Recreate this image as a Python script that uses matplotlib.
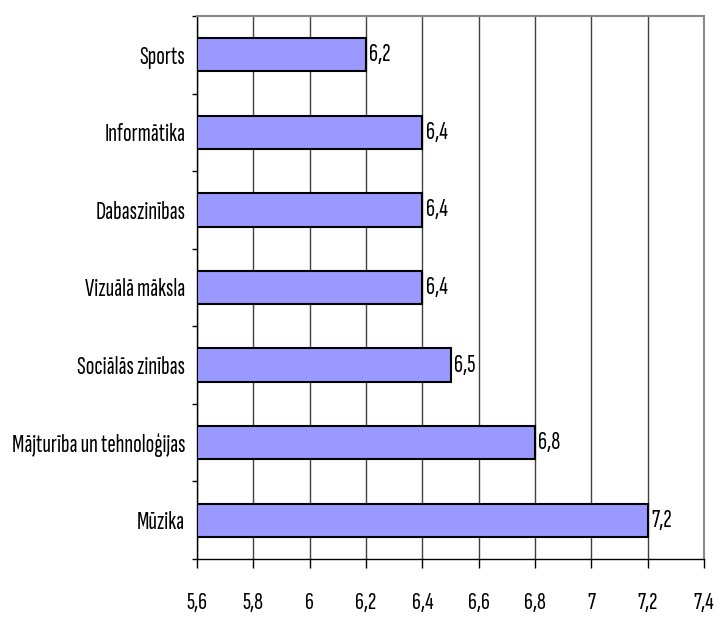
import matplotlib
matplotlib.use("Agg")
import matplotlib.pyplot as plt
from matplotlib import font_manager
from matplotlib.font_manager import FontProperties
from matplotlib.ticker import FixedLocator, NullFormatter
from matplotlib.textpath import TextPath

categories = ["Sports", "Informātika", "Dabaszinības", "Vizuālā māksla",
              "Sociālās zinības", "Mājturība un tehnoloģijas", "Mūzika"]
values = [6.2, 6.4, 6.4, 6.4, 6.5, 6.8, 7.2]
x_ticks = [5.6, 5.8, 6.0, 6.2, 6.4, 6.6, 6.8, 7.0, 7.2, 7.4]
x_tick_labels = ["5,6", "5,8", "6", "6,2", "6,4", "6,6", "6,8", "7", "7,2", "7,4"]
value_labels = ["6,2", "6,4", "6,4", "6,4", "6,5", "6,8", "7,2"]

# Reference text is a horizontally condensed Arial; pick the best available condensed sans.
preferred = ["Pathway Gothic One", "Sofia Sans Extra Condensed", "Fira Sans Extra Condensed",
             "Saira Extra Condensed", "Barlow Condensed", "Archivo Narrow", "PT Sans Narrow",
             "Roboto Condensed", "Liberation Sans Narrow", "Arimo", "Liberation Sans"]

def find(fam):
    try:
        return font_manager.findfont(FontProperties(family=fam), fallback_to_default=False)
    except Exception:
        return None

def ext_px(fname, text, size):
    e = TextPath((0, 0), text, size=size, prop=FontProperties(fname=fname)).get_extents()
    return e.width * 100 / 72.0, e.height * 100 / 72.0

longest = max(categories, key=len)
TARGET_RATIO = 172.0 / 21.0  # width of longest label / cap height in the reference
best, best_err = None, None
for fam in preferred:
    fn = find(fam)
    if fn is None:
        continue
    w, _ = ext_px(fn, longest, 10)
    _, h = ext_px(fn, "H", 10)
    err = abs(w / h - TARGET_RATIO)
    if best is None or err < best_err:
        best, best_err = fn, err
FNAME = best or font_manager.findfont(FontProperties(family="DejaVu Sans"))

w10, _ = ext_px(FNAME, longest, 10)
_, h10 = ext_px(FNAME, "H", 10)
cat_size = min(10 * 172.0 / w10, 10 * 21.0 / h10)
_, d10 = ext_px(FNAME, "5", 10)
tick_size = min(10 * 16.5 / d10, cat_size)
val_size = min(10 * 17.5 / d10, cat_size)

cat_fp = FontProperties(fname=FNAME, size=cat_size)
tick_fp = FontProperties(fname=FNAME, size=tick_size)
val_fp = FontProperties(fname=FNAME, size=val_size)

fig = plt.figure(figsize=(7.17, 6.18), dpi=100)
ax = fig.add_axes([197/717, 1-559/618, (704-197)/717, (559-16)/618])

n = len(categories)
ypos = list(range(n))[::-1]  # Sports at top
ax.barh(ypos, [v - x_ticks[0] for v in values], left=x_ticks[0], height=0.43,
        color="#9999FF", edgecolor="black", linewidth=1.5, zorder=3)

for y, v, lab in zip(ypos, values, value_labels):
    ax.text(v + 0.012, y, lab, va="center", ha="left", fontproperties=val_fp, zorder=4)

ax.set_xlim(5.6, 7.4)
ax.set_ylim(-0.5, n - 0.5)
ax.xaxis.set_major_locator(FixedLocator(x_ticks))
ax.set_xticklabels(x_tick_labels)
for t in ax.get_xticklabels():
    t.set_fontproperties(tick_fp)
ax.xaxis.grid(True, color="#404040", linewidth=1.0, zorder=0)
ax.set_axisbelow(True)

# y ticks at category boundaries, labels at centres
ax.yaxis.set_major_locator(FixedLocator([i - 0.5 for i in range(n + 1)]))
ax.yaxis.set_major_formatter(NullFormatter())
ax.yaxis.set_minor_locator(FixedLocator(ypos))
ax.set_yticklabels(categories, minor=True)
for t in ax.get_yticklabels(minor=True):
    t.set_fontproperties(cat_fp)
ax.tick_params(axis="y", which="minor", length=0, pad=8.5)
ax.tick_params(axis="y", which="major", length=3.6, width=1, direction="out")
ax.tick_params(axis="x", length=6.5, width=1, direction="out", pad=17)

for s in ["top", "right"]:
    ax.spines[s].set_color("#888888")
    ax.spines[s].set_linewidth(1.5)
for s in ["left", "bottom"]:
    ax.spines[s].set_color("black")
    ax.spines[s].set_linewidth(1.0)

fig.savefig("out.png", dpi=100)
